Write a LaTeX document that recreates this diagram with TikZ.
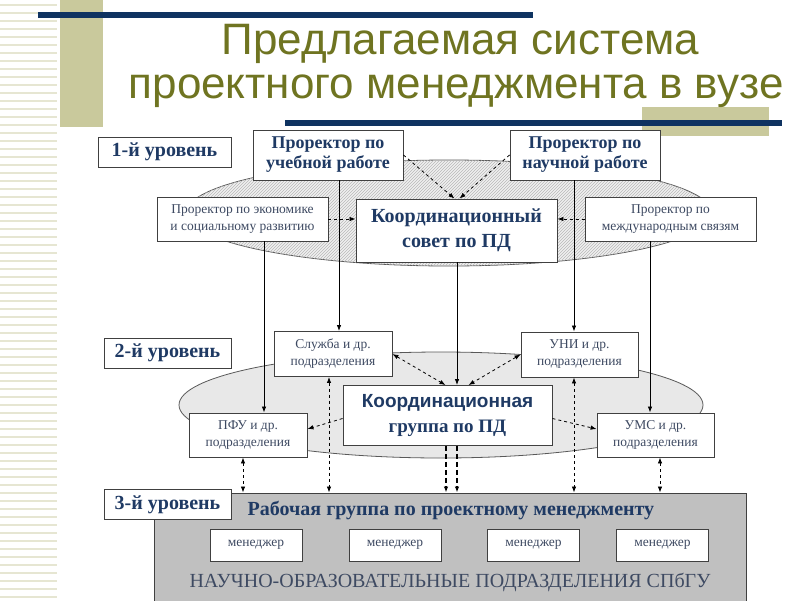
\documentclass[tikz,border=0pt]{standalone}
\usepackage{fontspec}
\setmainfont{Liberation Serif}
\setsansfont{Liberation Sans}
\usetikzlibrary{arrows.meta,patterns}
\definecolor{navyink}{HTML}{1F3A64}
\definecolor{grayink}{HTML}{3E4A62}
\definecolor{titleolive}{HTML}{6F7421}
\definecolor{sandbar}{HTML}{C9C99C}
\definecolor{stripe}{HTML}{E6E6D2}
\definecolor{darknavy}{HTML}{0F3361}
\definecolor{basegray}{HTML}{C0C0C0}
\tikzset{
    box/.style={draw=black!75, line width=0.9pt, fill=white, inner sep=0pt, align=center},
    boldtxt/.style={box, text=navyink, font=\fontsize{18}{20}\selectfont\bfseries},
    smalltxt/.style={box, text=grayink, font=\fontsize{13.5}{17}\selectfont},
    lvlbox/.style={box, text=navyink, minimum width=127, minimum height=30, font=\fontsize{20}{22}\selectfont\bfseries},
    titletxt/.style={anchor=base west, text=titleolive, font=\fontsize{44}{48}\selectfont\sffamily},
    hatchy/.style={draw=black!65, line width=0.8pt, fill=gray!12, postaction={pattern=north east lines, pattern color=gray!55}},
    thickdash/.style={line width=1.6pt, dash pattern=on 5pt off 3pt}
}
\begin{document}
\begin{tikzpicture}[x=1pt, y=-1pt, >={Latex[length=6pt,width=4.5pt]}, line width=0.8pt]
            \useasboundingbox (0,0) rectangle (800,600);

            \foreach \yy in {5,13,...,597} \draw[stripe, line width=1.6pt] (0,\yy) -- (57,\yy);
            \fill[sandbar] (60,0) rectangle (103,127);
            \fill[darknavy] (38,12) rectangle (533,18);
            \fill[sandbar] (642,107) rectangle (769,136);
            \fill[darknavy] (285,120) rectangle (782,126);

            \node[titletxt] (ttl1) at (218,54) {Предлагаемая система};
            \node[titletxt] (ttl2) at (125,98) {проектного менеджмента в вузе};

            \draw[hatchy] (449,213) ellipse [x radius=263, y radius=53];
            \draw[draw=black!65, fill=gray!18] (441,405) ellipse [x radius=262, y radius=53];
            \node[box, draw=black!75, fill=basegray, minimum width=592, minimum height=110] (base) at (450,548) {};

            \node[lvlbox, minimum width=133] (lvl1) at (164.5,152) {1-й уровень};
            \node[lvlbox] (lvl2) at (167.5,353) {2-й уровень};
            \node[lvlbox] (lvl3) at (167.5,504.5) {3-й уровень};

            \node[boldtxt, minimum width=150, minimum height=50] (ucheb) at (328,155) {Проректор по\\учебной работе};
            \node[boldtxt, minimum width=150, minimum height=50] (nauch) at (585,155) {Проректор по\\научной работе};
            \node[smalltxt, minimum width=171, minimum height=44] (econ) at (242.5,219) {Проректор по экономике\\и социальному развитию};
            \node[boldtxt, minimum width=201, minimum height=63, font=\fontsize{20}{25}\selectfont\bfseries] (council) at (456.5,230.5) {Координационный\\совет по ПД};
            \node[smalltxt, minimum width=171, minimum height=44] (intl) at (670.5,219) {Проректор по\\международным связям};

            \node[smalltxt, minimum width=118, minimum height=45] (sluzh) at (333,354) {Служба и др.\\подразделения};
            \node[smalltxt, minimum width=117, minimum height=45] (uni) at (579.5,354.5) {УНИ и др.\\подразделения};
            \node[boldtxt, minimum width=209, minimum height=60, font=\fontsize{19}{25}\selectfont\bfseries] (grp) at (447.5,415.5) {{\sffamily Координационная}\\группа по ПД};
            \node[smalltxt, minimum width=118, minimum height=44] (pfu) at (248,435) {ПФУ и др.\\подразделения};
            \node[smalltxt, minimum width=117, minimum height=44] (ums) at (655.5,435) {УМС и др.\\подразделения};

            \node[text=navyink, font=\fontsize{20}{22}\selectfont\bfseries] (work) at (451,510) {Рабочая группа по проектному менеджменту};
            \node[smalltxt, minimum width=92, minimum height=32] (man1) at (256,545) {менеджер};
            \node[smalltxt, minimum width=92, minimum height=32] (man2) at (395,545) {менеджер};
            \node[smalltxt, minimum width=92, minimum height=32] (man3) at (533.5,545) {менеджер};
            \node[smalltxt, minimum width=92, minimum height=32] (man4) at (662.5,545) {менеджер};
            \node[text=grayink, font=\fontsize{20}{22}\selectfont] (units) at (450,582) {НАУЧНО-ОБРАЗОВАТЕЛЬНЫЕ ПОДРАЗДЕЛЕНИЯ СПбГУ};

            \draw[dashed,->] (ucheb.east) -- ([xshift=-2pt]council.north);
            \draw[dashed,->] (nauch.west) -- ([xshift=3pt]council.north);
            \draw[dashed,->] (econ.east) -- (council.west |- econ.east);
            \draw[dashed,->] (intl.west) -- (council.east |- intl.west);

            \draw[->] (econ.south -| 264,0) -- (pfu.north -| 264,0);
            \draw[->] (ucheb.south -| 339,0) -- (sluzh.north -| 339,0);
            \draw[->] (council.south -| 457,0) -- (grp.north -| 457,0);
            \draw[->] (nauch.south -| 574,0) -- (uni.north -| 574,0);
            \draw[->] (intl.south -| 650,0) -- (ums.north -| 650,0);

            \draw[dashed,<->] (sluzh.east) -- ([xshift=-2pt]grp.north);
            \draw[dashed,<->] (uni.west) -- ([xshift=21pt]grp.north);
            \draw[dashed,->] ([yshift=-3pt]grp.west) -- ([yshift=6pt]pfu.east);
            \draw[dashed,->] ([yshift=-3pt]grp.east) -- ([yshift=6pt]ums.west);

            \draw[dashed,<->] (pfu.south -| 243,0) -- (base.north -| 243,0);
            \draw[dashed,<->] (sluzh.south -| 329,0) -- (base.north -| 329,0);
            \draw[thickdash,->] (grp.south -| 446,0) -- (base.north -| 446,0);
            \draw[thickdash,->] (grp.south -| 457,0) -- (base.north -| 457,0);
            \draw[dashed,<->] (uni.south -| 574,0) -- (base.north -| 574,0);
            \draw[dashed,<->] (ums.south -| 660,0) -- (base.north -| 660,0);
        \end{tikzpicture}
\end{document}
